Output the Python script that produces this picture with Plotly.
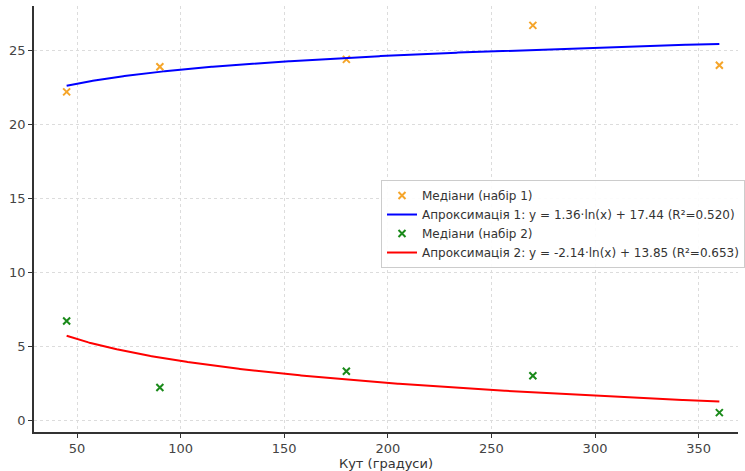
import numpy as np
import plotly.graph_objects as go

angles = [45, 90, 180, 270, 360]
medians_1 = [22.2, 23.9, 24.4, 26.7, 24.0]
medians_2 = [6.7, 2.2, 3.3, 3.0, 0.5]

fit1_a, fit1_b, fit1_r2 = 1.36, 17.44, 0.520
fit2_a, fit2_b, fit2_r2 = -2.14, 13.85, 0.653

x_fit = np.linspace(min(angles), max(angles), 600)
y_fit1 = fit1_a * np.log(x_fit) + fit1_b
y_fit2 = fit2_a * np.log(x_fit) + fit2_b

x_ticks = [50, 100, 150, 200, 250, 300, 350]
y_ticks = [0, 5, 10, 15, 20, 25]

fig = go.Figure()
fig.add_trace(go.Scatter(x=angles, y=medians_1, mode="markers", name="Медіани (набір 1)",
                         marker=dict(symbol="x-thin", size=7, color="#f5a52a",
                                     line=dict(width=2, color="#f5a52a"))))
fig.add_trace(go.Scatter(x=x_fit, y=y_fit1, mode="lines",
                         name=f"Апроксимація 1: y = {fit1_a:.2f}·ln(x) + {fit1_b:.2f} (R²={fit1_r2:.3f})",
                         line=dict(color="#0000ff", width=2)))
fig.add_trace(go.Scatter(x=angles, y=medians_2, mode="markers", name="Медіани (набір 2)",
                         marker=dict(symbol="x-thin", size=7, color="#1a8a1a",
                                     line=dict(width=2, color="#1a8a1a"))))
fig.add_trace(go.Scatter(x=x_fit, y=y_fit2, mode="lines",
                         name=f"Апроксимація 2: y = {fit2_a:.2f}·ln(x) + {fit2_b:.2f} (R²={fit2_r2:.3f})",
                         line=dict(color="#ff0000", width=2)))

axis_common = dict(showline=True, linecolor="#333333", linewidth=1.5, ticks="outside",
                   ticklen=4, tickcolor="#333333", showgrid=True, gridcolor="#dcdcdc",
                   griddash="dot", gridwidth=1, zeroline=False,
                   tickfont=dict(family="DejaVu Sans", size=13, color="#444444"))

fig.update_layout(
    width=745, height=471,
    margin=dict(l=34, r=0, t=6, b=39),
    plot_bgcolor="white", paper_bgcolor="white",
    font=dict(family="DejaVu Sans", color="#333333"),
    xaxis=dict(range=[29.25, 369.0], tickvals=x_ticks,
               title=dict(text="Кут (градуси)", font=dict(size=13, color="#333333"), standoff=4),
               **axis_common),
    yaxis=dict(range=[-0.81, 28.01], tickvals=y_ticks, **axis_common),
    legend=dict(x=0.493, y=0.5915, xanchor="left", yanchor="top",
                bgcolor="rgba(255,255,255,0.9)", bordercolor="#cccccc", borderwidth=1,
                font=dict(size=12, color="#333333"), tracegroupgap=0, itemwidth=30),
    showlegend=True,
)

fig.write_html("out.html", config={"displayModeBar": False},
               post_script="document.body.style.margin='0';")
